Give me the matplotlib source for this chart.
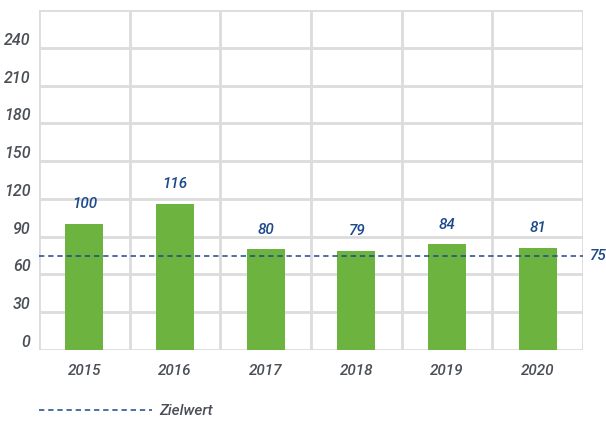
import numpy as np
import matplotlib
matplotlib.use("Agg")
import matplotlib.pyplot as plt

years = ["2015", "2016", "2017", "2018", "2019", "2020"]
values = [100, 116, 80, 79, 84, 81]
target = 75
yticks = [0, 30, 60, 90, 120, 150, 180, 210, 240]

plt.rcParams['font.family'] = ['Roboto', 'DejaVu Sans']

green = "#6db33f"
blue = "#1b4a8a"
grey_text = "#4a4f57"
grid_col = "#dcdcdc"

fig = plt.figure(figsize=(6.06, 4.21), dpi=100)
ax = fig.add_axes([39 / 606, 71 / 421, 544 / 606, 340 / 421])

x = np.arange(len(years))
ax.bar(x, values, width=0.42, color=green, zorder=3)

for xi, v in zip(x, values):
    ax.text(xi, v + 10, str(v), ha="center", va="bottom", color=blue,
            fontsize=11, style="italic", weight="medium", zorder=4)

ax.axhline(target, color=blue, linestyle=(0, (3.5, 2.5)), linewidth=1.1,
           zorder=4, label="Zielwert")
ax.text(len(years) - 0.5 + 0.07, target, str(target), ha="left", va="center",
        color=blue, fontsize=11, style="italic", weight="medium")

ax.set_xlim(-0.5, len(years) - 0.5)
ax.set_ylim(0, 270)

ax.set_yticks(yticks)
ax.set_yticks([270], minor=True)
ax.set_yticklabels([str(t) for t in yticks], fontsize=11.5, style="italic",
                   weight="medium", color=grey_text, va="bottom")
ax.set_xticks(x)
ax.set_xticks(np.arange(-0.5, len(years)), minor=True)
ax.set_xticklabels(years, fontsize=11, style="italic", weight="medium", color=grey_text)

ax.tick_params(which="both", length=0)
ax.tick_params(axis="y", pad=6)
ax.tick_params(axis="x", pad=10)
ax.yaxis.grid(which="both", color=grid_col, linewidth=2, zorder=0)
ax.xaxis.grid(which="minor", color=grid_col, linewidth=2, zorder=0)
ax.xaxis.grid(which="major", visible=False)
for s in ax.spines.values():
    s.set_visible(False)

fig.legend(loc="center left", bbox_to_anchor=(25 / 606, 1 - 411 / 421),
           frameon=False, handlelength=7.4, handletextpad=0.5,
           prop={"size": 11, "style": "italic", "weight": "medium"},
           labelcolor=grey_text)

fig.savefig("out.png", dpi=100)
